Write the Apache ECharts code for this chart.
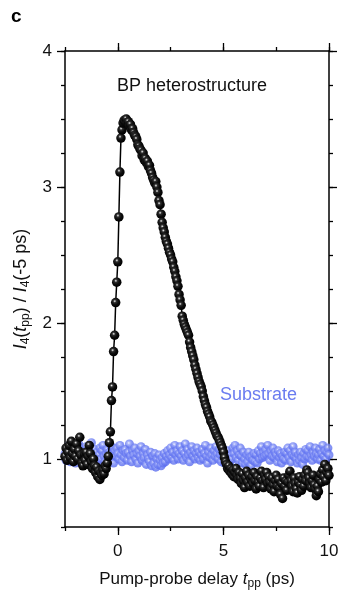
<!DOCTYPE html>
<html><head><meta charset="utf-8">
<script src="https://cdn.jsdelivr.net/npm/echarts@6/dist/echarts.min.js"></script>
<style>html,body{margin:0;padding:0;background:#fff}#c{width:341px;height:590px}</style>
</head><body><div id="c"></div>
<script>
const delays = [
-2.5,-2.45,-2.4,-2.35,-2.3,-2.25,-2.2,-2.15,-2.1,-2.05,
-2,-1.95,-1.9,-1.85,-1.8,-1.75,-1.7,-1.65,-1.6,-1.55,
-1.5,-1.45,-1.4,-1.35,-1.3,-1.25,-1.2,-1.15,-1.1,-1.05,
-1,-0.95,-0.9,-0.85,-0.8,-0.75,-0.7,-0.65,-0.6,-0.55,
-0.5,-0.45,-0.4,-0.35,-0.3,-0.25,-0.2,-0.15,-0.1,-0.05,
0,0.05,0.1,0.15,0.2,0.25,0.3,0.35,0.4,0.45,
0.5,0.55,0.6,0.65,0.7,0.75,0.8,0.85,0.9,0.95,
1,1.05,1.1,1.15,1.2,1.25,1.3,1.35,1.4,1.45,
1.5,1.55,1.6,1.65,1.7,1.75,1.8,1.85,1.9,1.95,
2,2.05,2.1,2.15,2.2,2.25,2.3,2.35,2.4,2.45,
2.5,2.55,2.6,2.65,2.7,2.75,2.8,2.85,2.9,2.95,
3,3.05,3.1,3.15,3.2,3.25,3.3,3.35,3.4,3.45,
3.5,3.55,3.6,3.65,3.7,3.75,3.8,3.85,3.9,3.95,
4,4.05,4.1,4.15,4.2,4.25,4.3,4.35,4.4,4.45,
4.5,4.55,4.6,4.65,4.7,4.75,4.8,4.85,4.9,4.95,
5,5.05,5.1,5.15,5.2,5.25,5.3,5.35,5.4,5.45,
5.5,5.55,5.6,5.65,5.7,5.75,5.8,5.85,5.9,5.95,
6,6.05,6.1,6.15,6.2,6.25,6.3,6.35,6.4,6.45,
6.5,6.55,6.6,6.65,6.7,6.75,6.8,6.85,6.9,6.95,
7,7.05,7.1,7.15,7.2,7.25,7.3,7.35,7.4,7.45,
7.5,7.55,7.6,7.65,7.7,7.75,7.8,7.85,7.9,7.95,
8,8.05,8.1,8.15,8.2,8.25,8.3,8.35,8.4,8.45,
8.5,8.55,8.6,8.65,8.7,8.75,8.8,8.85,8.9,8.95,
9,9.05,9.1,9.15,9.2,9.25,9.3,9.35,9.4,9.45,
9.5,9.55,9.6,9.65,9.7,9.75,9.8,9.85,9.9,9.95,
10];

const heterostructure = [
1.02,1.08,0.99,1.05,1.10,1.01,1.13,1.04,0.98,1.07,
1.02,1.11,1.00,1.06,1.16,1.03,0.97,0.95,1.04,0.99,
1.05,0.96,1.02,1.10,1.04,0.98,0.93,1.00,0.95,0.90,
0.94,0.87,0.91,0.85,0.90,0.88,0.92,0.89,0.95,0.93,
0.97,1.02,1.12,1.20,1.43,1.53,1.79,1.91,2.15,2.30,
2.45,2.78,3.11,3.36,3.42,3.47,3.49,3.48,3.50,3.47,
3.48,3.45,3.46,3.42,3.43,3.40,3.38,3.37,3.35,3.31,
3.30,3.28,3.27,3.23,3.25,3.20,3.21,3.18,3.19,3.15,
3.16,3.12,3.10,3.07,3.05,3.03,3.04,3.00,2.96,2.90,
2.87,2.80,2.74,2.70,2.67,2.63,2.60,2.58,2.55,2.52,
2.50,2.47,2.45,2.41,2.38,2.34,2.31,2.27,2.21,2.17,
2.13,2.05,2.02,1.99,1.97,1.95,1.93,1.91,1.86,1.82,
1.79,1.76,1.73,1.69,1.66,1.63,1.60,1.57,1.55,1.53,
1.50,1.46,1.43,1.40,1.38,1.35,1.33,1.31,1.28,1.27,
1.25,1.23,1.21,1.19,1.17,1.16,1.14,1.12,1.10,1.08,
1.05,1.01,0.98,0.96,0.93,0.95,0.91,0.93,0.89,0.92,
0.87,0.90,0.93,0.88,0.85,0.90,0.86,0.82,0.89,0.84,
0.79,0.86,0.91,0.83,0.88,0.80,0.85,0.87,0.82,0.90,
0.84,0.78,0.87,0.83,0.80,0.86,0.91,0.84,0.79,0.88,
0.85,0.90,0.82,0.87,0.83,0.78,0.86,0.81,0.76,0.84,
0.88,0.80,0.85,0.79,0.74,0.82,0.71,0.86,0.80,0.84,
0.77,0.83,0.88,0.91,0.84,0.80,0.76,0.86,0.82,0.78,
0.75,0.83,0.87,0.81,0.77,0.85,0.80,0.88,0.84,0.92,
0.90,0.86,0.82,0.79,0.84,0.88,0.81,0.78,0.73,0.80,
0.76,0.85,0.89,0.83,0.92,0.87,0.96,0.84,0.90,0.93,
0.88];

const substrate = [
1.04,0.99,1.07,1.02,1.10,0.98,1.05,1.01,1.08,1.03,
0.97,1.06,1.00,1.11,1.04,0.99,1.07,1.02,0.96,1.05,
1.09,1.01,1.04,0.98,1.06,1.12,1.03,0.99,1.07,1.01,
1.05,0.97,1.03,1.08,1.00,1.06,1.10,1.02,0.98,1.04,
1.07,1.01,1.05,0.99,1.09,1.03,0.97,1.06,1.02,1.08,
1.04,1.00,1.10,1.03,0.98,1.06,1.01,1.07,1.04,0.99,
1.05,1.11,1.02,0.98,1.06,1.03,1.08,1.00,1.04,0.97,
1.06,1.02,1.09,0.99,1.04,1.01,1.07,0.96,1.03,1.00,
0.98,1.05,0.95,1.02,0.97,1.04,0.94,1.00,0.96,1.03,
0.99,0.95,1.01,0.97,1.04,0.98,1.02,1.06,1.00,1.03,
1.08,1.01,1.05,0.99,1.10,1.03,1.06,1.00,1.04,1.09,
1.02,1.06,0.99,1.04,1.11,1.01,1.07,1.03,0.98,1.05,
1.09,1.02,1.06,1.00,1.04,1.08,1.01,1.05,0.99,1.03,
1.07,1.00,1.04,1.10,1.02,0.97,1.05,1.01,1.08,1.03,
0.99,1.06,1.02,1.09,1.04,1.00,1.07,1.03,0.98,1.05,
1.01,0.97,1.04,0.99,1.06,1.02,0.96,1.03,1.00,1.08,
1.04,1.10,1.01,1.06,0.99,1.03,1.08,1.02,0.97,1.05,
1.00,0.96,1.03,0.98,1.05,1.01,0.95,1.02,0.99,1.04,
0.98,1.03,0.97,1.06,1.00,1.04,1.09,1.01,1.05,1.02,
1.07,1.03,1.10,1.04,0.99,1.06,1.02,1.08,1.01,1.05,
1.03,0.98,1.06,1.01,1.04,0.97,1.02,1.00,1.05,0.99,
1.04,1.08,1.01,1.06,0.98,1.03,1.09,1.02,1.05,1.00,
0.97,1.03,0.99,1.05,1.01,0.96,1.04,1.00,1.07,1.02,
1.06,1.01,1.09,1.03,0.99,1.05,1.02,1.08,1.04,1.00,
1.03,1.07,0.99,1.04,1.10,1.02,1.06,1.00,1.05,1.08,
1.03];

const xTickLabels = [0, 5, 10];
const yTickLabels = [1, 2, 3, 4];

const FONT = '"Liberation Sans", Arial, Helvetica, sans-serif';
const chart = echarts.init(document.getElementById('c'), null, {renderer: 'canvas'});

const blackBall = new echarts.graphic.RadialGradient(0.4, 0.35, 0.62, [
  {offset: 0, color: '#f6f6f6'}, {offset: 0.1, color: '#a8a8a8'},
  {offset: 0.26, color: '#2e2e2e'}, {offset: 0.6, color: '#0c0c0c'}, {offset: 1, color: '#000000'}]);
const blueBall = new echarts.graphic.RadialGradient(0.42, 0.38, 0.6, [
  {offset: 0, color: '#eef0ff'}, {offset: 0.25, color: '#9eaaf8'},
  {offset: 0.6, color: '#6a7cf2'}, {offset: 1, color: '#5a6cee'}]);

const axLine = {show: true, onZero: false, lineStyle: {color: '#000', width: 1.5}};
const noLine = {show: false, onZero: false};
const tickStyle = {color: '#000', width: 1.3};

function xAx(pos, main) {
  return {
    type: 'value', position: pos, min: -2.5, max: 10, interval: 2.5,
    axisLine: main ? axLine : noLine,
    axisTick: main ? {show: true, length: 8, customValues: xTickLabels, lineStyle: tickStyle}
                   : {show: true, length: 4, lineStyle: tickStyle},
    axisLabel: (main && pos === 'bottom') ? {show: true, customValues: xTickLabels, fontSize: 17, color: '#111', margin: 16, fontFamily: FONT} : {show: false},
    splitLine: {show: false}
  };
}
function yAx(pos, main) {
  return {
    type: 'value', position: pos, min: 0.5, max: 4, interval: 0.25,
    axisLine: main ? axLine : noLine,
    axisTick: main ? {show: true, length: 8, customValues: yTickLabels, lineStyle: tickStyle}
                   : {show: true, length: 4, lineStyle: tickStyle},
    axisLabel: (main && pos === 'left') ? {show: true, customValues: yTickLabels, fontSize: 17, color: '#111', margin: 13, fontFamily: FONT} : {show: false},
    splitLine: {show: false}
  };
}

const xs = [xAx('bottom', true), xAx('bottom', false), xAx('top', true), xAx('top', false)];
xs[0].name = 'Pump-probe delay {i|t}{s|pp} (ps)';
xs[0].nameLocation = 'middle';
xs[0].nameGap = 41;
xs[0].nameTextStyle = {fontSize: 17, color: '#111', fontFamily: FONT, lineHeight: 22,
  rich: {i: {fontStyle: 'italic', fontSize: 17, fontFamily: FONT, color: '#111'},
         s: {fontSize: 12, fontFamily: FONT, color: '#111', verticalAlign: 'bottom', lineHeight: 12}}};

const ys = [yAx('left', true), yAx('left', false), yAx('right', true), yAx('right', false)];
ys[0].name = '{i|I}{s|4}({i|t}{s|pp}) / {i|I}{s|4}(-5 ps)';
ys[0].nameLocation = 'middle';
ys[0].nameRotate = 90;
ys[0].nameGap = 30;
ys[0].nameTextStyle = {fontSize: 18, color: '#111', fontFamily: FONT, lineHeight: 22,
  rich: {i: {fontStyle: 'italic', fontSize: 18, fontFamily: FONT, color: '#111'},
         s: {fontSize: 12, fontFamily: FONT, color: '#111', verticalAlign: 'bottom', lineHeight: 12}}};

chart.setOption({
  animation: false,
  backgroundColor: '#fff',
  grid: {left: 65, right: 12, top: 51, bottom: 63, containLabel: false, outerBoundsMode: 'none'},
  xAxis: xs,
  yAxis: ys,
  graphic: [
    {type: 'text', left: 11, top: 7, style: {text: 'c', font: 'bold 19px ' + FONT, fill: '#000'}},
    {type: 'text', left: 117, top: 77, style: {text: 'BP heterostructure', font: '18px ' + FONT, fill: '#111'}},
    {type: 'text', left: 220, top: 386, style: {text: 'Substrate', font: '18px ' + FONT, fill: '#6a7cf0'}}
  ],
  series: [
    {
      name: 'Substrate', type: 'scatter', xAxisIndex: 0, yAxisIndex: 0, z: 2,
      symbol: 'circle', symbolSize: 9,
      itemStyle: {color: blueBall},
      data: delays.map((d, i) => [d, substrate[i]])
    },
    {
      name: 'BP heterostructure', type: 'line', xAxisIndex: 0, yAxisIndex: 0, z: 3,
      symbol: 'circle', symbolSize: 9.5, showAllSymbol: true,
      lineStyle: {color: '#000', width: 1.5},
      itemStyle: {color: blackBall},
      data: delays.map((d, i) => [d, heterostructure[i]])
    }
  ]
});
</script>
</body></html>
